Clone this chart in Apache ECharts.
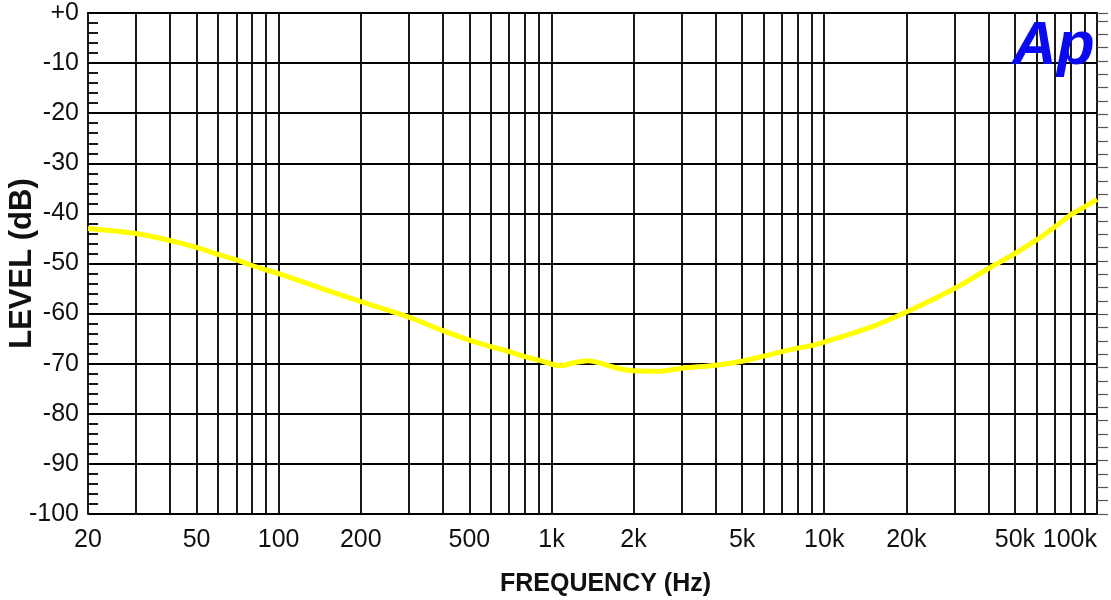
<!DOCTYPE html>
<html>
<head>
<meta charset="utf-8">
<script src="https://cdn.jsdelivr.net/npm/echarts@6/dist/echarts.min.js"></script>
<style>html,body{margin:0;padding:0;background:#fff;}#c{width:1111px;height:600px;}</style>
</head>
<body>
<div id="c"></div>
<script>
// Frequency (Hz) and level (dB)
var freqs = [20, 30, 40, 50, 60, 70, 80, 90, 100, 150, 200, 300, 400, 500, 600, 700, 800, 900, 1000, 1085, 1210, 1360, 1560, 1750, 2000, 2500, 3000, 4000, 5000, 6000, 7000, 8000, 9000, 10000, 15000, 20000, 30000, 40000, 50000, 60000, 70000, 80000, 90000, 100000];
var levels = [-43.0, -44.0, -45.4, -46.8, -48.2, -49.3, -50.4, -51.3, -52.0, -55.3, -57.6, -60.7, -63.4, -65.3, -66.6, -67.6, -68.6, -69.3, -70.1, -70.4, -69.8, -69.4, -70.1, -70.9, -71.4, -71.5, -70.9, -70.3, -69.5, -68.5, -67.6, -66.9, -66.4, -65.7, -62.6, -59.7, -55.0, -51.0, -48.0, -45.3, -42.7, -40.3, -38.7, -37.2];
var gridFreqs = [30, 40, 50, 60, 70, 80, 90, 100, 200, 300, 400, 500, 600, 700, 800, 900, 1000, 2000, 3000, 4000, 5000, 6000, 7000, 8000, 9000, 10000, 20000, 30000, 40000, 50000, 60000, 70000, 80000, 90000];
var labelFreqs = [20, 50, 100, 200, 500, 1000, 2000, 5000, 10000, 20000, 50000, 100000];

var data = freqs.map(function (f, i) { return [f, levels[i]]; });
function fmtFreq(v) {
  if (v >= 1000) return Math.round(v / 1000) + 'k';
  return String(Math.round(v));
}
var chart = echarts.init(document.getElementById('c'));
var FONT = 'Liberation Sans';
var LINE = { color: '#000', width: 1.8 };
chart.setOption({
  backgroundColor: '#ffffff',
  animation: false,
  grid: { left: 88, top: 13, right: 14, bottom: 86, show: false, containLabel: false, outerBoundsMode: 'none' },
  xAxis: {
    type: 'log', logBase: 10, min: 20, max: 100000,
    name: 'FREQUENCY (Hz)', nameLocation: 'middle', nameGap: 58, nameMoveOverlap: false,
    nameTextStyle: { fontFamily: FONT, fontWeight: 'bold', fontSize: 25, color: '#111', padding: [0, 0, 0, 26] },
    axisLine: { show: true, lineStyle: LINE },
    axisTick: { show: false, customValues: gridFreqs },
    axisLabel: { customValues: labelFreqs, formatter: fmtFreq, fontFamily: FONT, fontSize: 25, color: '#111', margin: 14, alignMaxLabel: 'right' },
    splitLine: { show: true, lineStyle: LINE },
    minorTick: { show: false }, minorSplitLine: { show: false }
  },
  yAxis: [{
    type: 'value', min: -100, max: 0, interval: 10, position: 'left',
    name: 'LEVEL (dB)', nameLocation: 'middle', nameGap: 50, nameRotate: 90, nameMoveOverlap: false,
    nameTextStyle: { fontFamily: FONT, fontWeight: 'bold', fontSize: 31, color: '#111' },
    axisLine: { show: true, lineStyle: LINE },
    axisTick: { show: true, inside: true, length: 10, lineStyle: LINE },
    minorTick: { show: true, splitNumber: 5, length: 10, lineStyle: LINE },
    axisLabel: { fontFamily: FONT, fontSize: 25, color: '#111', margin: 9,
      formatter: function (v) { return v === 0 ? '+0' : String(v); } },
    splitLine: { show: true, lineStyle: LINE }
  }, {
    type: 'value', min: 0, max: 37.6, interval: 1, position: 'right',
    axisLine: { show: true, lineStyle: LINE },
    axisTick: { show: true, inside: false, length: 11, lineStyle: { color: '#555', width: 1.2 } },
    axisLabel: { show: false },
    splitLine: { show: false }
  }],
  graphic: [{
    type: 'text', z: 110, style: {
      x: 1012, y: 47, text: 'Ap', fill: '#0a0af0',
      font: 'italic bold 62px "Liberation Sans"', textVerticalAlign: 'middle', textAlign: 'left'
    }
  }],
  series: [{
    type: 'line', data: data, smooth: 0.3, showSymbol: false, symbol: 'none', z: 5,
    lineStyle: { color: '#ffff00', width: 5 }
  }]
});
</script>
</body>
</html>
